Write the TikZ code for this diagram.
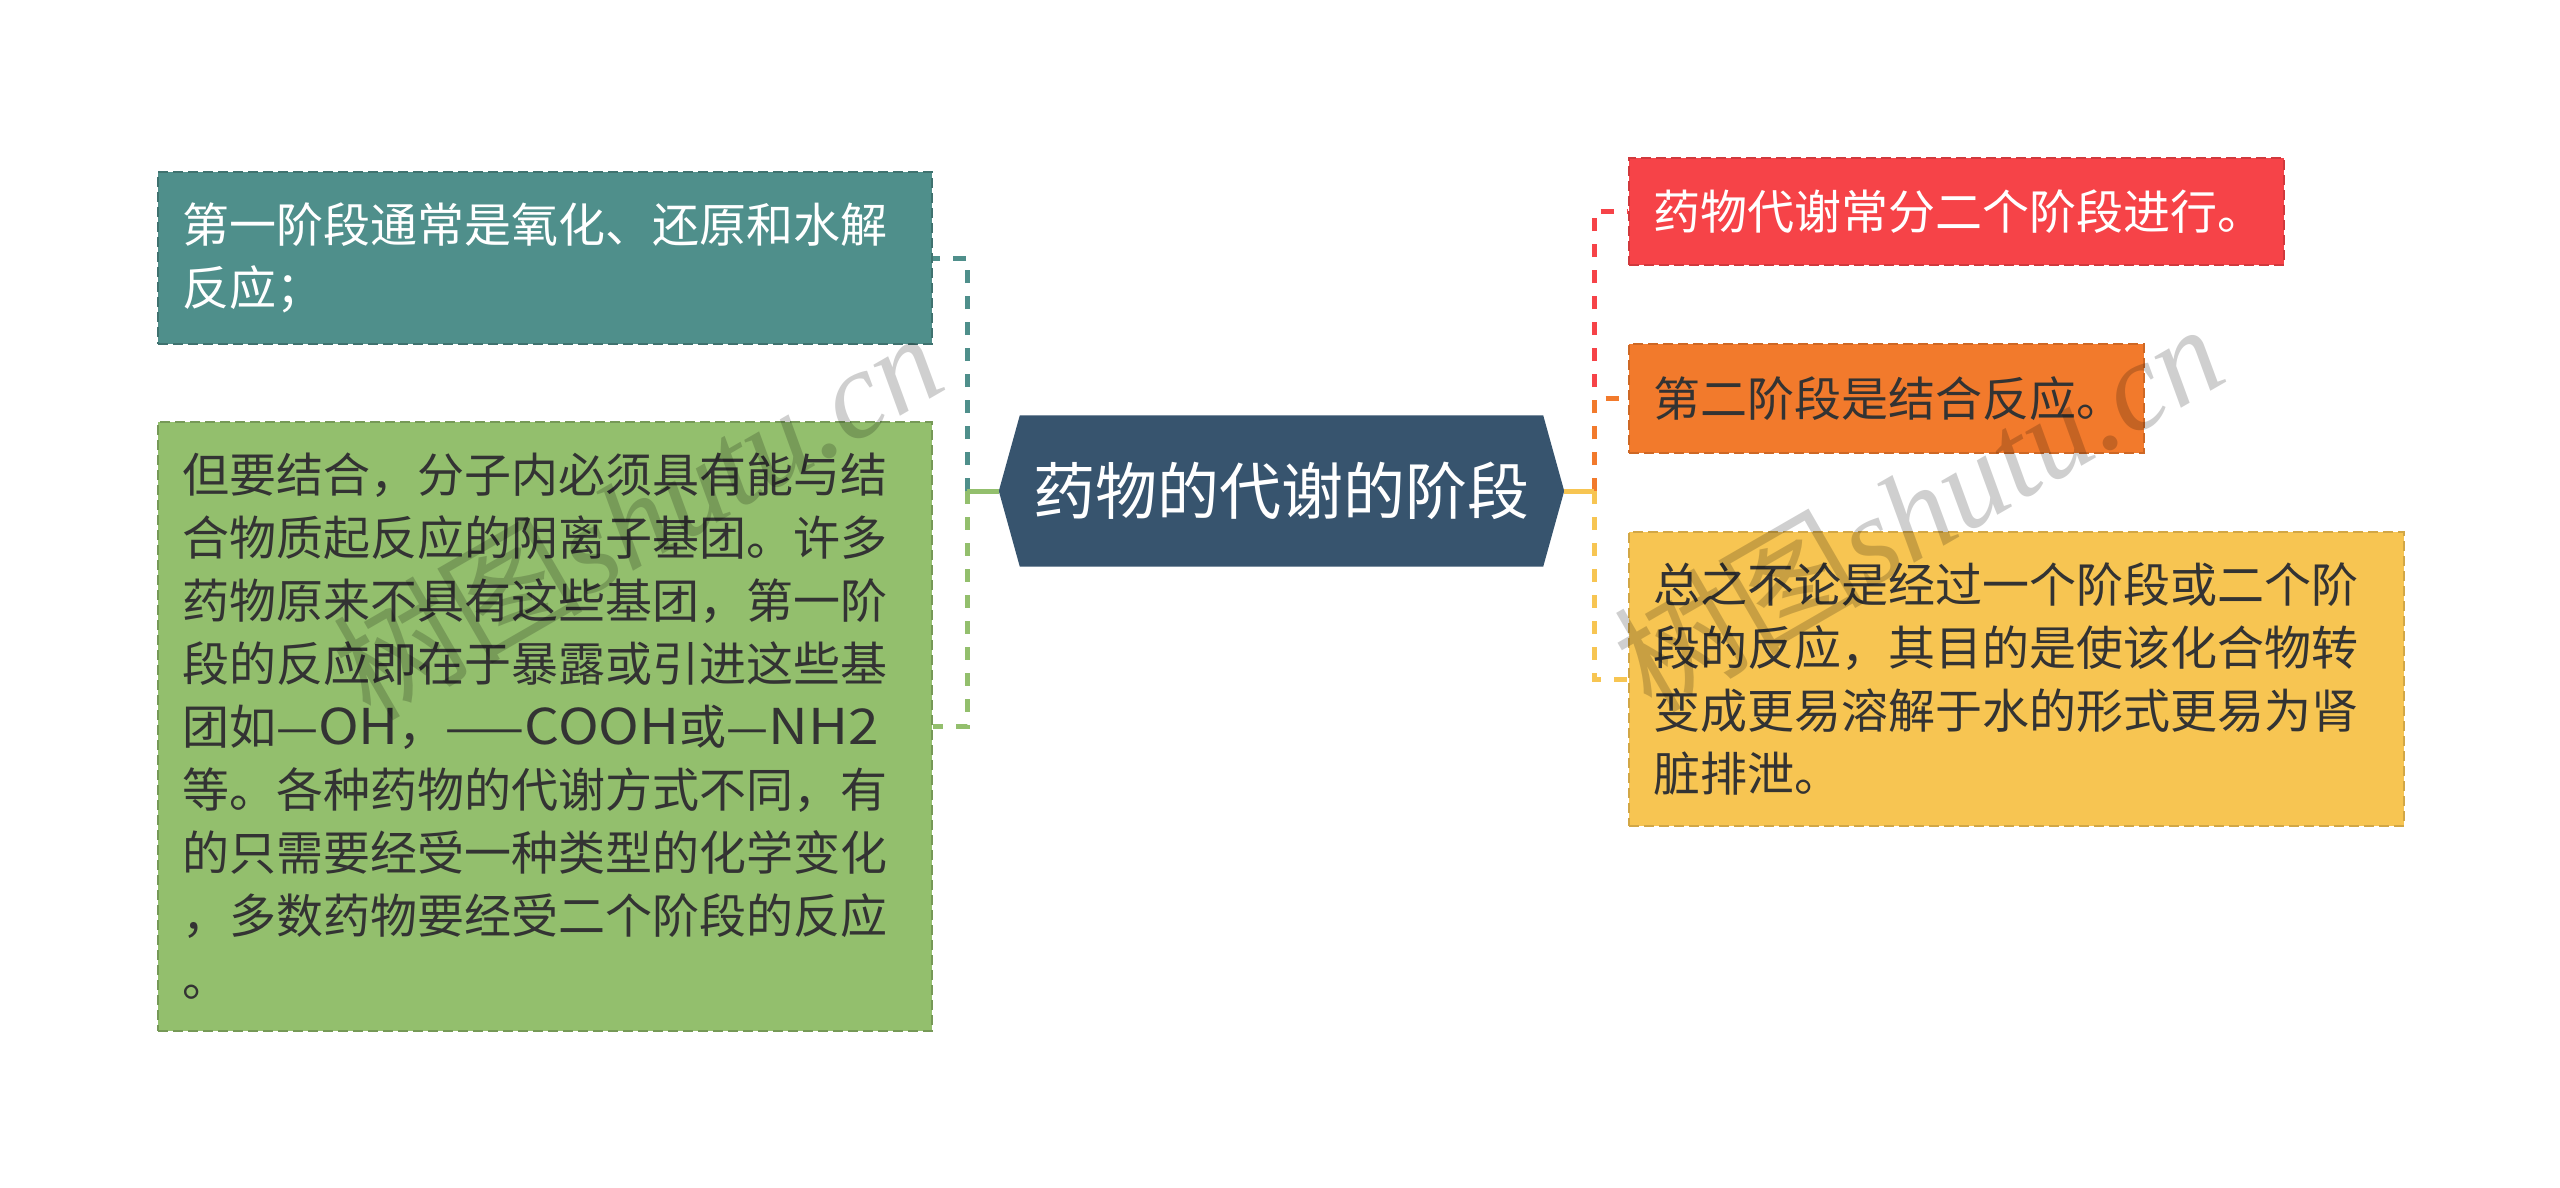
\documentclass[tikz,border=0pt]{standalone}
\usepackage{fontspec}
\usepackage{graphicx}
\setmainfont{Noto Sans CJK SC}
\newfontfamily\wmfont{Liberation Serif}
\usetikzlibrary{calc}
\definecolor{cteal}{HTML}{4F8F8B}
\definecolor{cgreen}{HTML}{93BF6D}
\definecolor{chex}{HTML}{37546E}
\definecolor{cred}{HTML}{F64348}
\definecolor{corange}{HTML}{F27A2C}
\definecolor{cyellow}{HTML}{F7C552}
\definecolor{ctext}{HTML}{333333}
\newcommand{\widelat}[1]{\scalebox{1.17}[1.05]{#1}}
\begin{document}
\begin{tikzpicture}[x=1pt,y=-1pt,
  box/.style={rectangle, anchor=north west, inner xsep=24pt, inner ysep=0pt,
    align=left, line width=2pt, dash pattern=on 10pt off 5pt,
    font=\fontsize{47}{63}\selectfont},
  conn/.style={line width=5pt, dash pattern=on 13pt off 13pt},
  solidconn/.style={line width=5pt},
  wm/.style={rotate=30, text=black, text opacity=0.19, font=\fontsize{125}{130}\selectfont}]
\fill[white] (0,0) rectangle (2560,1187);
\useasboundingbox (0,0) rectangle (2560,1187);

% left boxes
\node[box, fill=cteal, draw=cteal!80!black, text=white, minimum width=774, minimum height=172, text width=726] (n1) at (157,171)
  {第一阶段通常是氧化、还原和水解\\反应；};
\node[box, fill=cgreen, draw=cgreen!80!black, text=ctext, minimum width=774, minimum height=609, text width=726] (n2) at (157,421)
  {但要结合，分子内必须具有能与结\\合物质起反应的阴离子基团。许多\\药物原来不具有这些基团，第一阶\\段的反应即在于暴露或引进这些基\\团如—\widelat{OH}，——\widelat{COOH}或—\widelat{NH2}\\等。各种药物的代谢方式不同，有\\的只需要经受一种类型的化学变化\\，多数药物要经受二个阶段的反应\\。};

% right boxes
\node[box, fill=cred, draw=cred!85!black, text=white, minimum width=655, minimum height=107, text width=607] (r1) at (1628,157)
  {药物代谢常分二个阶段进行。};
\node[box, fill=corange, draw=corange!85!black, text=ctext, minimum width=515, minimum height=109, text width=467] (r2) at (1628,343)
  {第二阶段是结合反应。};
\node[box, fill=cyellow, draw=cyellow!85!black, text=ctext, minimum width=775, minimum height=294, text width=727] (r3) at (1628,531)
  {总之不论是经过一个阶段或二个阶\\段的反应，其目的是使该化合物转\\变成更易溶解于水的形式更易为肾\\脏排泄。};

% central hexagon
\node[minimum width=565, minimum height=151, inner sep=0] (hex) at (1281.5,491) {};
\fill[chex] ([xshift=21]hex.north west) -- ([xshift=-21]hex.north east) -- (hex.east)
  -- ([xshift=-21]hex.south east) -- ([xshift=21]hex.south west) -- (hex.west) -- cycle;
\node[text=white, font=\fontsize{62}{70}\selectfont, inner sep=0] (hext) at (hex) {药物的代谢的阶段};

% connectors
\coordinate (jl) at (967,491);
\coordinate (jr) at (1594,491);
\draw[conn, cteal] (jl) |- (n1.east);
\draw[conn, cgreen] (jl) |- (n2.east);
\draw[solidconn, cgreen] (hex.west) -- (jl);
\draw[conn, cred] (jr) |- (r1.west);
\draw[conn, corange] (jr) |- (r2.west);
\draw[conn, cyellow] (jr) |- (r3.west);
\draw[solidconn, cyellow] (hex.east) -- (jr);

% watermarks
\node[wm] (wm1) at (637,514) {树图{\wmfont\itshape shutu.cn}};
\node[wm] (wm2) at (1918,506) {树图{\wmfont\itshape shutu.cn}};
\end{tikzpicture}
\end{document}
